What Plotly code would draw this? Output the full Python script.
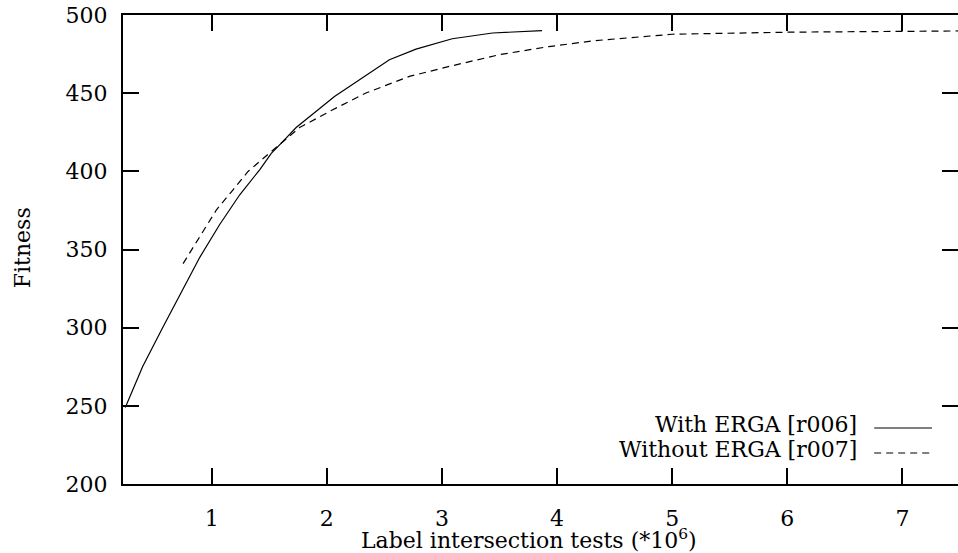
import plotly.graph_objects as go

# With ERGA [r006]
with_x = [0.25, 0.40, 0.574, 0.755, 0.897, 1.07, 1.244, 1.417, 1.518, 1.605, 1.734,
          2.067, 2.284, 2.544, 2.775, 3.09, 3.44, 3.87]
with_y = [249, 275, 300, 325, 345, 366, 385, 401, 411.5, 418, 428,
          447.9, 458.6, 471.4, 478.2, 484.8, 488.5, 490]

# Without ERGA [r007]
without_x = [0.752, 0.897, 1.042, 1.186, 1.316, 1.417, 1.518, 1.605, 1.764, 2.052, 2.34,
             2.717, 3.064, 3.497, 3.93, 4.33, 5.0, 6.0, 7.0, 7.5]
without_y = [341, 358, 375.4, 388.2, 399.9, 406.3, 412.7, 418, 428, 439.4, 450.1,
             460.7, 467.1, 474.6, 479.8, 483.6, 487.7, 489, 489.7, 489.8]

series_names = ["With ERGA [r006]", "Without ERGA [r007]"]
x_ticks = [1, 2, 3, 4, 5, 6, 7]
y_ticks = [200, 250, 300, 350, 400, 450, 500]
x_title = "Label intersection tests (*10<sup>6</sup>)"
y_title = "Fitness"

FONT = "DejaVu Serif"
FS = 22

# the plot box runs slightly past the right edge of the 958px window (as in the reference)
W, H = 960, 553
L, R, T, B = 123, 0, 15, 553 - 484
PW = W - L - R
PH = H - T - B


def px_to_paper_x(px):
    return (px - L) / PW


def px_to_paper_y(py):
    return (H - B - py) / PH


fig = go.Figure()
fig.add_trace(go.Scatter(x=with_x, y=with_y, mode="lines", name=series_names[0],
                         line=dict(color="black", width=1.2), showlegend=False))
fig.add_trace(go.Scatter(x=without_x, y=without_y, mode="lines", name=series_names[1],
                         line=dict(color="black", width=1.2, dash="7px,5px"), showlegend=False))

# gnuplot-style key: text right-aligned, sample line to the right
key_rows = [(series_names[0], "solid", 424, 428), (series_names[1], "7px,5px", 449, 453)]
for name, dash, ytext, yline in key_rows:
    fig.add_annotation(text=name, xref="paper", yref="paper", x=px_to_paper_x(861),
                       y=px_to_paper_y(ytext), xanchor="right", yanchor="middle", showarrow=False,
                       font=dict(family=FONT, size=FS, color="black"))
    fig.add_shape(type="line", xref="paper", yref="paper",
                  x0=px_to_paper_x(876), x1=px_to_paper_x(934),
                  y0=px_to_paper_y(yline), y1=px_to_paper_y(yline),
                  line=dict(color="black", width=1.2, dash=dash))

# axis titles
fig.add_annotation(text=x_title, xref="paper", yref="paper", x=px_to_paper_x(530), y=0,
                   xanchor="center", yanchor="middle", yshift=-55, showarrow=False,
                   font=dict(family=FONT, size=FS, color="black"))
fig.add_annotation(text=y_title, xref="paper", yref="paper", x=px_to_paper_x(22),
                   y=px_to_paper_y(248), xanchor="center", yanchor="middle", textangle=-90,
                   showarrow=False, font=dict(family=FONT, size=FS, color="black"))

axis_common = dict(showline=True, linecolor="black", linewidth=2, mirror="ticks",
                   ticks="inside", ticklen=16, tickwidth=2, tickcolor="black",
                   showgrid=False, zeroline=False,
                   tickfont=dict(family=FONT, size=FS, color="black"))

fig.update_xaxes(range=[0.23, 7.483], tickvals=x_ticks, ticktext=[str(v) for v in x_ticks],
                 ticklabelstandoff=14, **axis_common)
fig.update_yaxes(range=[200, 500], tickvals=y_ticks, ticktext=[str(v) for v in y_ticks],
                 ticklabelstandoff=9, **axis_common)

fig.update_layout(width=W, height=H, margin=dict(l=L, r=R, t=T, b=B),
                  plot_bgcolor="white", paper_bgcolor="white")

# remove the default 8px page margin and any scrollbars so the figure fills the window exactly
fig.write_html("out.html", config={"displayModeBar": False},
               post_script="document.body.style.margin='0';document.body.style.overflow='hidden';"
                           "document.documentElement.style.overflow='hidden';")
